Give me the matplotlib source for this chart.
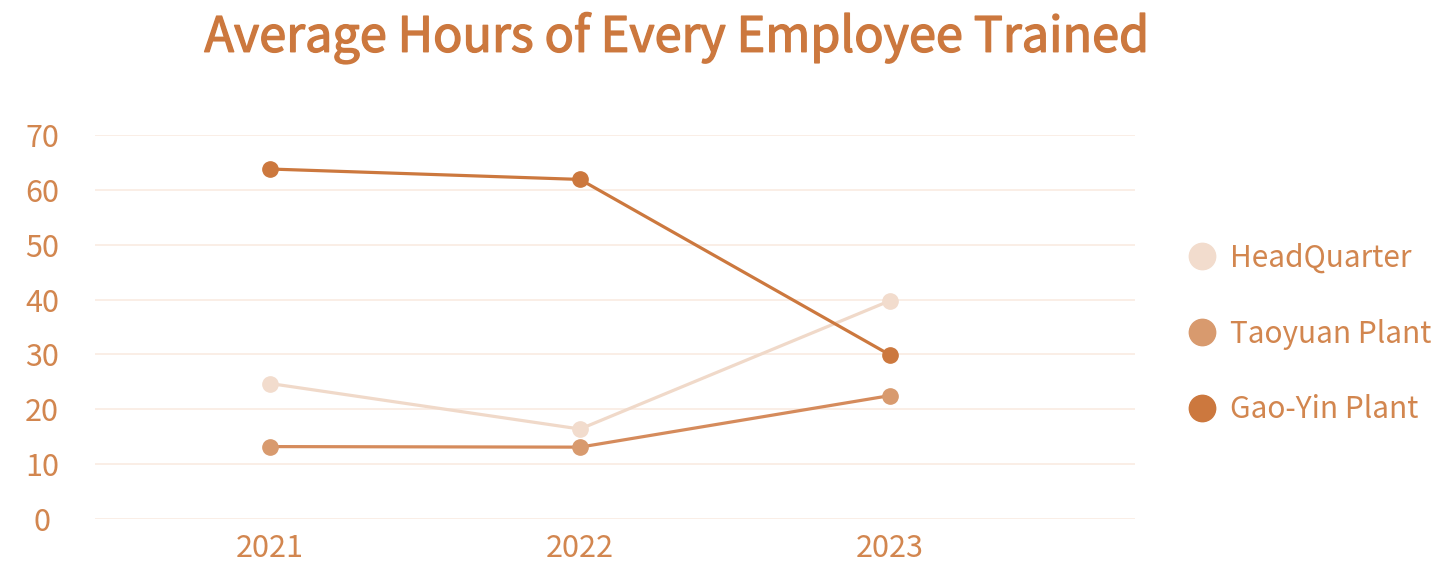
import matplotlib
matplotlib.use("Agg")
import matplotlib.pyplot as plt
import matplotlib.patheffects as pe
from matplotlib.lines import Line2D

years = ["2021", "2022", "2023"]
series_names = ["HeadQuarter", "Taoyuan Plant", "Gao-Yin Plant"]
headquarter = [24.7, 16.4, 39.8]
taoyuan = [13.2, 13.1, 22.5]
gaoyin = [63.8, 61.9, 29.9]
yticks = [0, 10, 20, 30, 40, 50, 60, 70]

colors = ["#F2DCCD", "#D89A6E", "#CC783E"]
line_colors = ["#F0D9C9", "#D58B5C", "#CC783E"]
text_color = "#D2864F"

plt.rcParams['font.family'] = ['Noto Sans CJK SC', 'DejaVu Sans']

fig = plt.figure(figsize=(14.54, 5.82), dpi=100)
ax = fig.add_axes([95/1454, 63/582, 1040/1454, 384/582])

x = list(range(len(years)))
for vals, c, lc, name in zip([headquarter, taoyuan, gaoyin], colors, line_colors, series_names):
    ax.plot(x, vals, color=lc, lw=2.3, zorder=3, clip_on=False)
    ax.plot(x, vals, 'o', color=c, ms=11, mec=c, zorder=4, clip_on=False, label=name)

ax.set_xlim(-0.5645, 2.79)
ax.set_ylim(0, 70)
ax.set_yticks(yticks)
ax.set_xticks(x)
ax.set_xticklabels(years)
ax.grid(axis='y', color='#FAEBE1', lw=1.2)
ax.set_axisbelow(True)
for s in ax.spines.values():
    s.set_visible(False)
ax.tick_params(axis='both', length=0, colors=text_color, labelsize=22)
ax.tick_params(axis='y', pad=38)
for lab in ax.get_yticklabels():
    lab.set_horizontalalignment('center')
for lab in ax.get_xticklabels():
    pass
ax.tick_params(axis='x', pad=10)

handles = [Line2D([], [], marker='o', ls='none', color=c, ms=19) for c in colors]
leg = fig.legend(handles, series_names, loc='center left', bbox_to_anchor=(1160/1454, 1 - 334/582),
                 frameon=False, labelspacing=1.5, handletextpad=0.45, handlelength=1.0,
                 prop={'size': 21.5})
for t in leg.get_texts():
    t.set_color(text_color)

fig.text(677/1454, 1 - 38/582, "Average Hours of Every Employee Trained", ha='center', va='center',
         fontsize=35, color="#CC783E",
         path_effects=[pe.withStroke(linewidth=1.0, foreground="#CC783E")])

fig.savefig("out.png", dpi=100)
